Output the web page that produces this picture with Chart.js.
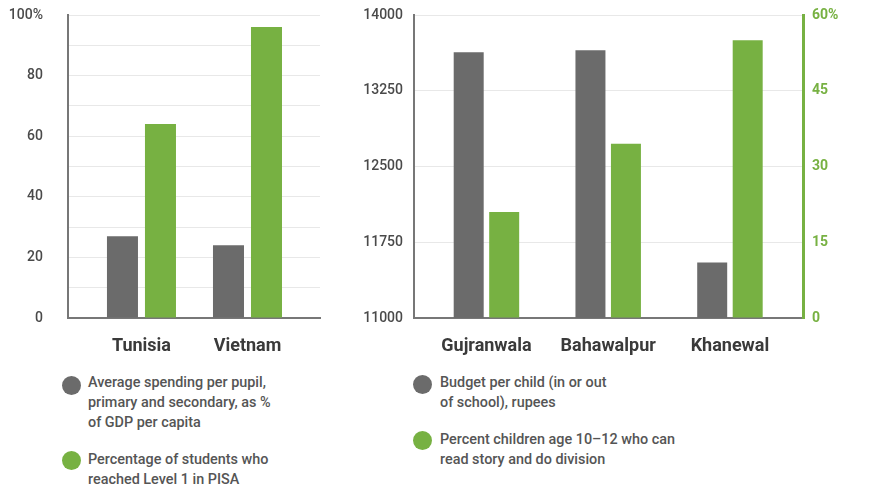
<!DOCTYPE html>
<html>
<head>
<meta charset="utf-8">
<script src="https://cdn.jsdelivr.net/npm/chart.js@4"></script>
<style>
body{margin:0;background:#fff;width:884px;height:487px;position:relative;overflow:hidden;font-family:Roboto,sans-serif}
#leftBox{position:absolute;left:0;top:0;width:330px;height:365px}
#rightBox{position:absolute;left:330px;top:0;width:554px;height:365px}
.leg{position:absolute;font-size:14.4px;line-height:20px;color:#555;font-weight:500}
.dot{position:absolute;width:19px;height:19px;border-radius:50%}
</style>
</head>
<body>
<div id="leftBox"><canvas id="leftChart"></canvas></div>
<div id="rightBox"><canvas id="rightChart"></canvas></div>

<div class="dot" style="left:62px;top:376px;background:#6b6b6b"></div>
<div class="leg" style="left:88px;top:373px">Average spending per pupil,<br>primary and secondary, as %<br>of GDP per capita</div>
<div class="dot" style="left:62px;top:451px;background:#77b142"></div>
<div class="leg" style="left:88px;top:450px">Percentage of students who<br>reached Level 1 in PISA</div>

<div class="dot" style="left:413px;top:375px;background:#6b6b6b"></div>
<div class="leg" style="left:440px;top:373px">Budget per child (in or out<br>of school), rupees</div>
<div class="dot" style="left:413px;top:431px;background:#77b142"></div>
<div class="leg" style="left:440px;top:430px">Percent children age 10–12 who can<br>read story and do division</div>

<script>
// left panel: countries
const countries = ['Tunisia', 'Vietnam'];
const spendingPct = [27, 24];
const pisaLevel1 = [64, 96];

// right panel: Pakistan districts
const districts = ['Gujranwala', 'Bahawalpur', 'Khanewal'];
const budgetPerChild = [13630, 13650, 11550];
const readDivide = [21, 34.5, 55];

const GREY = '#6b6b6b';
const GREEN = '#77b142';
const CLEAR = 'rgba(0,0,0,0)';
const tickFont = {family: 'Roboto', size: 14, weight: '500'};
const catFont = {family: 'Roboto', size: 18, weight: 'bold'};

Chart.defaults.animation = false;

function pts(values){
    return values.map((v, i) => ({x: i, y: v}));
}

// x is linear so the bar groups can sit a little in from the axis ends
function catAxis(labels, min, max){
    return {
        type: 'linear',
        offset: false,
        min: min,
        max: max,
        afterBuildTicks: s => { s.ticks = labels.map((l, i) => ({value: i})); },
        afterFit: s => { s.height = 47; },
        ticks: {
            callback: v => labels[v],
            padding: 18,
            font: catFont,
            color: '#3a3a3a',
            maxRotation: 0,
            autoSkip: false
        },
        grid: {display: false, drawTicks: false},
        border: {color: '#777', width: 2}
    };
}

/**
 * Left chart
 */
new Chart(document.getElementById('leftChart'), {
    type: 'bar',
    data: {
        datasets: [{
            data: pts(spendingPct),
            backgroundColor: GREY
        }, {
            data: pts(pisaLevel1),
            backgroundColor: GREEN
        }]
    },
    options: {
        responsive: true,
        maintainAspectRatio: false,
        layout: {padding: {top: 15, right: 10, left: 0, bottom: 0}},
        datasets: {bar: {categoryPercentage: 0.717, barPercentage: 0.816}},
        plugins: {legend: {display: false}, tooltip: {enabled: false}},
        scales: {
            x: catAxis(countries, -0.693, 1.684),
            y: {
                min: 0,
                max: 100,
                afterFit: s => { s.width = 68; },
                ticks: {
                    stepSize: 10,
                    padding: 3,
                    color: '#4a4a4a',
                    font: tickFont,
                    callback: v => v % 20 ? '' : (v === 100 ? '100%' : String(v))
                },
                // invisible tick marks just push the labels away from the axis
                grid: {color: '#e8e8e8', tickLength: 22, tickColor: CLEAR},
                border: {color: '#777', width: 2}
            }
        }
    }
});

/**
 * Right chart, two y axes
 */
new Chart(document.getElementById('rightChart'), {
    type: 'bar',
    data: {
        datasets: [{
            data: pts(budgetPerChild),
            backgroundColor: GREY,
            yAxisID: 'y'
        }, {
            data: pts(readDivide),
            backgroundColor: GREEN,
            yAxisID: 'y1'
        }]
    },
    options: {
        responsive: true,
        maintainAspectRatio: false,
        layout: {padding: {top: 15, right: 0, left: 0, bottom: 0}},
        datasets: {bar: {categoryPercentage: 0.583, barPercentage: 0.845}},
        plugins: {legend: {display: false}, tooltip: {enabled: false}},
        scales: {
            x: catAxis(districts, -0.595, 2.6),
            y: {
                position: 'left',
                min: 11000,
                max: 14000,
                afterFit: s => { s.width = 84; },
                ticks: {stepSize: 750, padding: 3, color: '#4a4a4a', font: tickFont, callback: v => String(v)},
                grid: {color: '#e8e8e8', tickLength: 8, tickColor: CLEAR},
                border: {color: '#777', width: 2}
            },
            y1: {
                position: 'right',
                min: 0,
                max: 60,
                afterFit: s => { s.width = 81; },
                ticks: {
                    stepSize: 15,
                    padding: 3,
                    color: GREEN,
                    font: {family: 'Roboto', size: 14, weight: 'bold'},
                    callback: v => v === 60 ? '60%' : String(v)
                },
                grid: {drawOnChartArea: false, tickLength: 6, tickColor: CLEAR},
                border: {color: GREEN, width: 3}
            }
        }
    }
});
</script>
</body>
</html>
